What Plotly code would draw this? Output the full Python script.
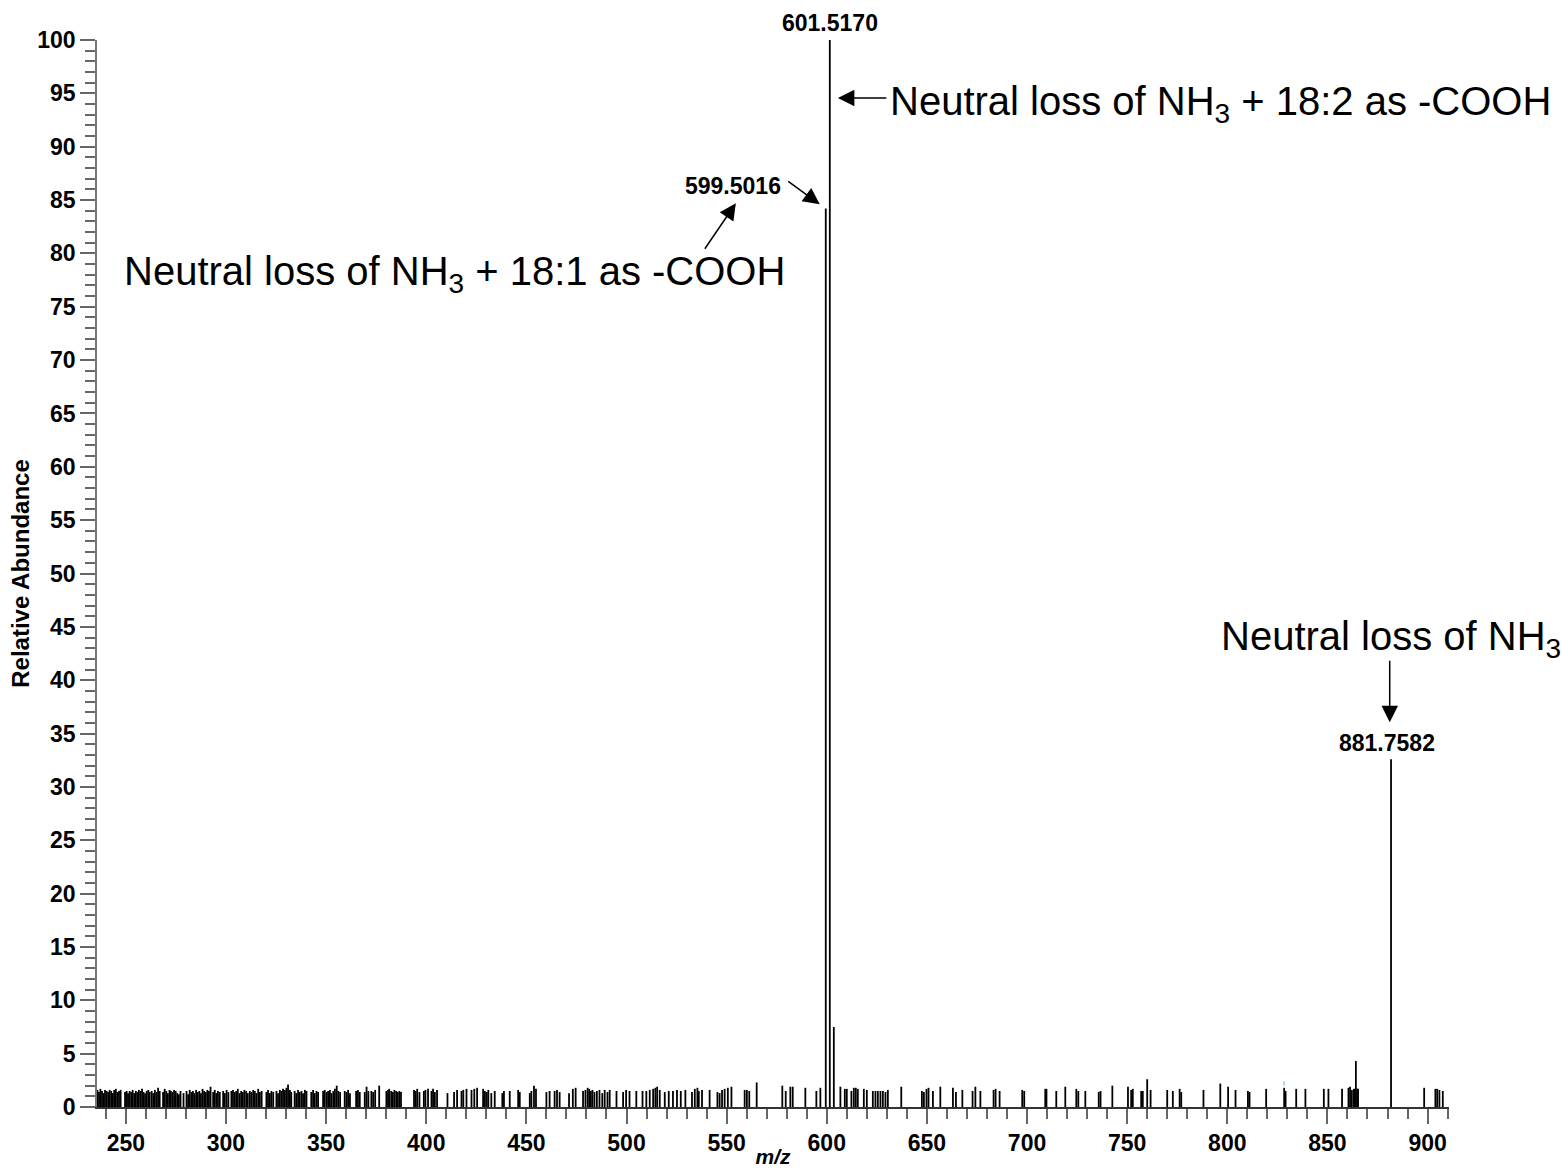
import plotly.graph_objects as go

# ---- spectrum data (m/z, relative abundance) ----
major_mz = [599.5016, 601.5170, 603.52, 864.2, 881.7582]
major_int = [84.2, 100.0, 7.5, 4.3, 32.6]

noise_mz = [
    235.8, 236.6, 237.3, 238.1, 238.9, 239.6, 240.4, 241.2, 241.9, 242.7, 243.5, 244.2, 245.0, 245.8, 246.6, 247.4,
    249.6, 250.4, 251.1, 251.9, 252.7, 253.4, 254.2, 255.0, 255.8, 256.5, 257.3, 258.1, 258.8, 259.6, 260.4, 261.2, 261.9,
    262.9, 263.7, 264.5, 265.3, 266.1, 266.9,
    268.6, 269.4, 270.2, 271.0, 271.8, 272.5, 273.3, 274.1, 274.9, 275.7, 276.5, 277.3,
    278.8, 280.3, 281.1, 281.9, 282.7, 283.5, 284.3, 285.1, 285.9, 286.7, 287.5, 288.3, 289.1, 289.9, 290.7, 291.5, 292.3,
    293.6, 294.4, 295.2, 296.0, 296.9,
    298.6, 299.4, 300.3, 301.2,
    302.7, 303.5, 304.3, 305.1, 305.9, 306.8, 307.6, 308.4, 309.2, 310.1, 310.9,
    311.9, 312.7, 313.6, 314.4, 315.2, 316.1, 316.9, 317.8,
    320.2, 321.0, 321.9, 322.7, 323.6,
    325.2, 326.0, 326.9, 327.7, 328.5, 329.4, 330.2, 331.0, 331.9, 332.6,
    334.3, 335.1, 336.0, 336.8, 337.7, 338.5, 339.4, 340.2,
    342.6, 343.5, 344.3, 345.2, 346.0,
    348.5, 349.3, 350.2, 351.0, 351.9, 352.7, 353.6, 354.4, 355.3, 356.1, 357.0,
    359.3, 360.2, 361.0, 361.9,
    365.0, 365.9, 366.8,
    369.3, 370.2, 371.1,
    372.6, 373.5, 374.5, 376.5,
    380.1, 380.9, 381.5, 382.5, 383.3, 384.1, 385.0, 385.8, 386.6, 387.4,
    393.9, 394.7, 395.5, 396.6, 398.8, 399.6, 400.9, 402.6, 403.4, 404.3, 405.4,
    410.6, 413.9, 415.4, 417.6, 418.5, 420.1, 422.6, 424.0, 425.4,
    428.4, 429.3, 430.2, 431.0, 432.5, 434.2, 438.0, 438.8, 441.7, 445.9, 446.7,
    451.7, 452.5, 453.8, 454.8, 460.0, 461.6, 464.1, 465.3, 466.6, 471.3, 473.2, 474.6,
    478.3, 479.5, 480.6, 481.4, 482.2, 483.0, 484.0, 485.2, 486.5, 487.9,
    489.1, 490.5, 491.6, 495.0, 498.3, 499.8, 501.5, 504.9, 508.0,
    509.9, 511.6, 513.3, 514.4, 515.3, 516.6, 519.1, 521.1, 523.2, 525.2, 527.1, 529.4,
    532.7, 534.1, 535.4, 536.1, 537.7, 541.5, 545.4, 546.5, 547.7, 549.0, 550.6, 552.4,
    559.0, 560.1, 561.3, 565.0, 577.8, 579.5, 581.8, 583.0, 589.3, 594.8, 596.8,
    606.8, 609.0, 610.0, 612.3, 613.5, 614.5, 615.5, 618.5, 620.0,
    623.0, 624.3, 625.5, 626.8, 628.0, 629.3, 630.5, 637.2,
    647.5, 648.5, 649.8, 650.8, 653.0, 656.7, 663.0, 664.5, 667.7, 672.8, 674.2, 676.7,
    683.3, 684.3, 686.3, 697.6, 698.6, 709.1, 709.7, 714.6, 719.1, 724.6, 725.6, 729.1,
    735.8, 736.7, 742.6, 750.4, 752.0, 752.8, 757.0, 757.8, 760.0, 761.7, 770.0, 772.8,
    776.2, 777.0, 788.1, 796.5, 800.4, 804.1, 810.3, 811.1, 819.4, 828.4, 829.1, 834.4,
    839.0, 848.2, 850.5, 857.3, 860.5, 861.3, 862.2, 863.2, 863.7, 864.8, 865.3,
    898.3, 903.9, 904.8, 905.9, 907.6,
]
noise_int = [
    1.6, 1.4, 1.7, 1.5, 1.3, 1.6, 1.5, 1.4, 1.6, 1.5, 1.3, 1.6, 1.7, 1.4, 1.5, 1.6,
    1.4, 1.5, 1.3, 1.5, 1.4, 1.6, 1.3, 1.5, 1.4, 1.6, 1.5, 1.7, 1.4, 1.3, 1.5, 1.6, 1.4,
    1.5, 1.3, 1.6, 1.4, 1.8, 1.5,
    1.4, 1.7, 1.5, 1.3, 1.6, 1.5, 1.4, 1.6, 1.5, 1.3, 1.2, 1.5,
    1.3, 1.5, 1.2, 1.6, 1.4, 1.5, 1.3, 1.6, 1.4, 1.5, 1.3, 1.7, 1.5, 1.4, 1.6, 1.5, 1.9,
    1.4, 1.6, 1.3, 1.5, 1.4,
    1.5, 1.3, 1.6, 1.4,
    1.5, 1.6, 1.4, 1.5, 1.7, 1.3, 1.5, 1.4, 1.6, 1.5, 1.3,
    1.5, 1.4, 1.6, 1.5, 1.3, 1.7, 1.4, 1.5,
    1.4, 1.6, 1.3, 1.5, 1.4,
    1.5, 1.3, 1.6, 1.5, 1.7, 1.6, 1.8, 2.1, 1.6, 1.4,
    1.5, 1.3, 1.6, 1.4, 1.5, 1.3, 1.6, 1.5,
    1.4, 1.6, 1.3, 1.5, 1.4,
    1.5, 1.6, 1.4, 1.5, 1.6, 1.3, 1.5, 1.7, 2.0, 1.5, 1.4,
    1.5, 1.4, 1.6, 1.3,
    1.5, 1.6, 1.4,
    1.4, 1.9, 1.5,
    1.5, 1.4, 1.6, 2.0,
    1.5, 1.6, 1.7, 1.5, 1.4, 1.6, 1.5, 1.4, 1.5, 1.4,
    1.6, 1.5, 1.7, 1.4, 1.5, 1.6, 1.7, 1.5, 1.7, 1.4, 1.6,
    1.3, 1.4, 1.6, 1.5, 1.6, 1.7, 1.6, 1.7, 1.8,
    1.7, 1.5, 1.4, 1.6, 1.3, 1.5, 1.3, 1.5, 1.5, 1.6, 1.4,
    1.3, 1.5, 2.0, 1.7, 1.4, 1.5, 1.5, 1.6, 1.4, 1.3, 1.7, 1.8,
    1.5, 1.6, 1.8, 1.7, 1.5, 1.6, 1.4, 1.5, 1.6, 1.3,
    1.6, 1.4, 1.6, 1.5, 1.4, 1.6, 1.5, 1.5, 1.5,
    1.5, 1.6, 1.7, 1.8, 1.9, 1.6, 1.4, 1.5, 1.5, 1.6, 1.5, 1.6,
    1.4, 1.7, 1.8, 1.5, 1.6, 1.6, 1.4, 1.3, 1.6, 1.7, 1.8, 1.9,
    1.6, 1.6, 1.5, 2.3, 2.0, 1.5, 1.9, 1.9, 1.8, 1.5, 1.8,
    1.9, 1.7, 1.7, 1.5, 1.8, 1.8, 1.7, 1.7, 1.6,
    1.5, 1.5, 1.5, 1.5, 1.5, 1.4, 1.6, 1.9,
    1.5, 1.4, 1.7, 1.8, 1.5, 1.9, 1.8, 1.4, 1.6, 1.5, 1.9, 1.5,
    1.6, 1.7, 1.5, 1.6, 1.5, 1.7, 1.7, 1.5, 1.9, 1.7, 1.5, 1.5,
    1.4, 1.5, 2.0, 1.9, 1.6, 1.7, 1.5, 1.5, 2.6, 1.6, 1.6, 1.5,
    1.7, 1.4, 1.6, 2.2, 1.9, 1.6, 1.5, 1.4, 1.7, 1.8, 1.5, 1.7,
    1.7, 1.7, 1.7, 1.7, 1.8, 1.9, 1.6, 1.7, 1.7, 1.7, 1.7,
    1.8, 1.7, 1.7, 1.6, 1.5,
]

# faint green trace segment near 828 m/z
green_mz = [828.4]
green_lo = [2.0]
green_hi = [2.4]

x_ticks = [250, 300, 350, 400, 450, 500, 550, 600, 650, 700, 750, 800, 850, 900]
y_ticks = list(range(0, 101, 5))

FONT = "Arial, 'Liberation Sans', sans-serif"

# build centroid sticks
all_mz = noise_mz + major_mz
all_int = noise_int + major_int
xs, ys = [], []
for m, h in zip(all_mz, all_int):
    xs += [m, m, None]
    ys += [0, h, None]

gx, gy = [], []
for m, lo, hi in zip(green_mz, green_lo, green_hi):
    gx += [m, m, None]
    gy += [lo, hi, None]

fig = go.Figure()
fig.add_trace(go.Scatter(x=xs, y=ys, mode="lines",
                         line=dict(color="black", width=1.8),
                         hoverinfo="skip", showlegend=False))
fig.add_trace(go.Scatter(x=gx, y=gy, mode="lines",
                         line=dict(color="#a6e0a6", width=2),
                         hoverinfo="skip", showlegend=False))

label_font = dict(family=FONT, size=23, color="black", weight="bold")
big_font = dict(family=FONT, size=40, color="black")

annotations = [
    # peak labels
    dict(x=major_mz[1], y=major_int[1], text="601.5170", showarrow=False,
         xanchor="center", yanchor="bottom", yshift=2, font=label_font),
    dict(x=553.1, y=86.3, text="599.5016", showarrow=False,
         xanchor="center", yanchor="middle", font=label_font),
    dict(x=major_mz[4], y=major_int[4], text="881.7582", showarrow=False,
         xanchor="center", yanchor="bottom", xshift=-4, yshift=1, font=label_font),
    # descriptive labels
    dict(x=630.8, y=94.0, text="Neutral loss of NH<sub>3</sub> + 18:2 as -COOH",
         showarrow=False, xanchor="left", yanchor="middle", font=big_font),
    dict(x=248.1, y=78.1, text="Neutral loss of NH<sub>3</sub> + 18:1 as -COOH",
         showarrow=False, xanchor="left", yanchor="middle", font=big_font),
    dict(x=795.8, y=43.9, text="Neutral loss of NH<sub>3</sub>",
         showarrow=False, xanchor="left", yanchor="middle", font=big_font),
]

# arrows (tip at x/y, tail offset in pixels)
arrows = [
    (605.55, 94.56, 50, 0),
    (596.5, 84.6, -33, -24),
    (554.6, 84.7, -32, 47),
    (881.1, 36.07, 0, -63),
]
for x, y, ax, ay in arrows:
    annotations.append(dict(x=x, y=y, ax=ax, ay=ay, axref="pixel", ayref="pixel",
                            text="", showarrow=True, arrowhead=2, arrowsize=2.2,
                            arrowwidth=1.5, arrowcolor="black", standoff=0))

tick_font = dict(family=FONT, size=23, color="black", weight="bold")

fig.update_layout(
    width=1562, height=1168,
    margin=dict(l=97, r=113, t=40, b=61),
    paper_bgcolor="white", plot_bgcolor="white",
    annotations=annotations,
    xaxis=dict(
        range=[235.6, 910.7], showgrid=False, zeroline=False,
        showline=True, linecolor="#333333", linewidth=1.5,
        ticks="outside", ticklen=15, tickwidth=1.5, tickcolor="#666666",
        tickmode="array", tickvals=x_ticks, ticktext=[str(v) for v in x_ticks],
        tickfont=tick_font,
        minor=dict(dtick=10, tick0=0, ticks="outside", ticklen=10,
                   tickwidth=1.5, tickcolor="#666666", showgrid=False),
        title=dict(text="m/z", standoff=0,
                   font=dict(family=FONT, size=21, color="black",
                             weight="bold", style="italic")),
        automargin=False,
    ),
    yaxis=dict(
        range=[0, 100], showgrid=False, zeroline=False,
        showline=True, linecolor="#777777", linewidth=1.5,
        ticks="outside", ticklen=15, tickwidth=1.5, tickcolor="#666666",
        tickmode="array", tickvals=y_ticks, ticktext=[str(v) for v in y_ticks],
        tickfont=tick_font,
        minor=dict(dtick=1, tick0=0, ticks="outside", ticklen=10,
                   tickwidth=1.5, tickcolor="#666666", showgrid=False),
        title=dict(text="Relative Abundance", standoff=1,
                   font=dict(family=FONT, size=24, color="black", weight="bold")),
        automargin=False,
    ),
)

fig.write_html("out.html")
